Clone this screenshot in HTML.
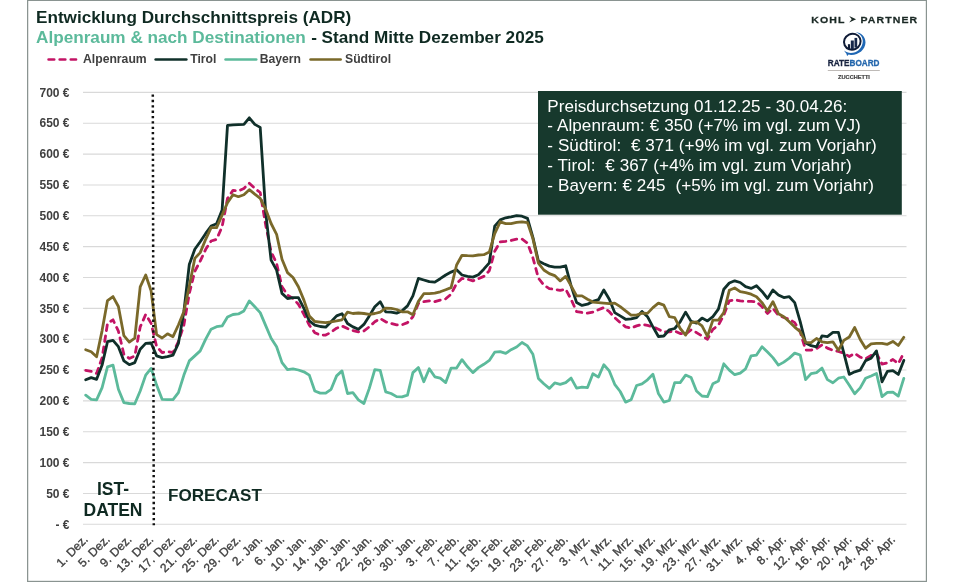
<!DOCTYPE html>
<html><head><meta charset="utf-8"><title>ADR</title>
<style>
html,body{margin:0;padding:0;background:#fff;}
body{width:964px;height:582px;overflow:hidden;position:relative;font-family:"Liberation Sans",sans-serif;}
svg{position:absolute;left:0;top:0;will-change:transform;transform:translateZ(0);}
text{font-family:"Liberation Sans",sans-serif;}
</style></head><body>
<svg width="964" height="582" viewBox="0 0 964 582">
<rect x="0" y="0" width="964" height="582" fill="#ffffff"/>
<g fill="#8a9491"><rect x="27" y="0" width="900" height="1"/><rect x="27" y="580.8" width="900" height="1.2"/><rect x="27" y="0" width="1.25" height="582"/><rect x="925.8" y="0" width="1.2" height="582"/></g>

<g stroke="#d9d9d9" stroke-width="1.1">
<line x1="83" y1="524.30" x2="906.5" y2="524.30"/>
<line x1="83" y1="493.45" x2="906.5" y2="493.45"/>
<line x1="83" y1="462.60" x2="906.5" y2="462.60"/>
<line x1="83" y1="431.75" x2="906.5" y2="431.75"/>
<line x1="83" y1="400.90" x2="906.5" y2="400.90"/>
<line x1="83" y1="370.05" x2="906.5" y2="370.05"/>
<line x1="83" y1="339.20" x2="906.5" y2="339.20"/>
<line x1="83" y1="308.35" x2="906.5" y2="308.35"/>
<line x1="83" y1="277.50" x2="906.5" y2="277.50"/>
<line x1="83" y1="246.65" x2="906.5" y2="246.65"/>
<line x1="83" y1="215.80" x2="906.5" y2="215.80"/>
<line x1="83" y1="184.95" x2="906.5" y2="184.95"/>
<line x1="83" y1="154.10" x2="906.5" y2="154.10"/>
<line x1="83" y1="123.25" x2="906.5" y2="123.25"/>
<line x1="83" y1="92.40" x2="906.5" y2="92.40"/>
</g>
<g font-size="12" font-weight="bold" fill="#404040" text-anchor="end">
<text x="69.5" y="529.1">- €</text>
<text x="69.5" y="497.6">50 €</text>
<text x="69.5" y="466.7">100 €</text>
<text x="69.5" y="435.9">150 €</text>
<text x="69.5" y="405.0">200 €</text>
<text x="69.5" y="374.2">250 €</text>
<text x="69.5" y="343.3">300 €</text>
<text x="69.5" y="312.5">350 €</text>
<text x="69.5" y="281.6">400 €</text>
<text x="69.5" y="250.8">450 €</text>
<text x="69.5" y="219.9">500 €</text>
<text x="69.5" y="189.1">550 €</text>
<text x="69.5" y="158.2">600 €</text>
<text x="69.5" y="127.4">650 €</text>
<text x="69.5" y="96.5">700 €</text>
</g>
<g font-size="12" fill="#404040" stroke="#404040" stroke-width="0.35" text-anchor="end">
<text transform="translate(88.7,540.2) rotate(-45)"><tspan letter-spacing="0.30">1. </tspan>Dez.</text>
<text transform="translate(110.5,540.2) rotate(-45)"><tspan letter-spacing="0.30">5. </tspan>Dez.</text>
<text transform="translate(132.3,540.2) rotate(-45)"><tspan letter-spacing="0.30">9. </tspan>Dez.</text>
<text transform="translate(154.1,540.2) rotate(-45)"><tspan letter-spacing="0.45">13. </tspan>Dez.</text>
<text transform="translate(176.0,540.2) rotate(-45)"><tspan letter-spacing="0.45">17. </tspan>Dez.</text>
<text transform="translate(197.8,540.2) rotate(-45)"><tspan letter-spacing="0.45">21. </tspan>Dez.</text>
<text transform="translate(219.6,540.2) rotate(-45)"><tspan letter-spacing="0.45">25. </tspan>Dez.</text>
<text transform="translate(241.4,540.2) rotate(-45)"><tspan letter-spacing="0.45">29. </tspan>Dez.</text>
<text transform="translate(263.2,540.2) rotate(-45)"><tspan letter-spacing="0.30">2. </tspan>Jan.</text>
<text transform="translate(285.0,540.2) rotate(-45)"><tspan letter-spacing="0.30">6. </tspan>Jan.</text>
<text transform="translate(306.9,540.2) rotate(-45)"><tspan letter-spacing="0.45">10. </tspan>Jan.</text>
<text transform="translate(328.7,540.2) rotate(-45)"><tspan letter-spacing="0.45">14. </tspan>Jan.</text>
<text transform="translate(350.5,540.2) rotate(-45)"><tspan letter-spacing="0.45">18. </tspan>Jan.</text>
<text transform="translate(372.3,540.2) rotate(-45)"><tspan letter-spacing="0.45">22. </tspan>Jan.</text>
<text transform="translate(394.1,540.2) rotate(-45)"><tspan letter-spacing="0.45">26. </tspan>Jan.</text>
<text transform="translate(415.9,540.2) rotate(-45)"><tspan letter-spacing="0.45">30. </tspan>Jan.</text>
<text transform="translate(437.8,540.2) rotate(-45)"><tspan letter-spacing="0.30">3. </tspan>Feb.</text>
<text transform="translate(459.6,540.2) rotate(-45)"><tspan letter-spacing="0.30">7. </tspan>Feb.</text>
<text transform="translate(481.4,540.2) rotate(-45)"><tspan letter-spacing="0.45">11. </tspan>Feb.</text>
<text transform="translate(503.2,540.2) rotate(-45)"><tspan letter-spacing="0.45">15. </tspan>Feb.</text>
<text transform="translate(525.0,540.2) rotate(-45)"><tspan letter-spacing="0.45">19. </tspan>Feb.</text>
<text transform="translate(546.8,540.2) rotate(-45)"><tspan letter-spacing="0.45">23. </tspan>Feb.</text>
<text transform="translate(568.7,540.2) rotate(-45)"><tspan letter-spacing="0.45">27. </tspan>Feb.</text>
<text transform="translate(590.5,540.2) rotate(-45)"><tspan letter-spacing="0.30">3. </tspan>Mrz.</text>
<text transform="translate(612.3,540.2) rotate(-45)"><tspan letter-spacing="0.30">7. </tspan>Mrz.</text>
<text transform="translate(634.1,540.2) rotate(-45)"><tspan letter-spacing="0.45">11. </tspan>Mrz.</text>
<text transform="translate(655.9,540.2) rotate(-45)"><tspan letter-spacing="0.45">15. </tspan>Mrz.</text>
<text transform="translate(677.7,540.2) rotate(-45)"><tspan letter-spacing="0.45">19. </tspan>Mrz.</text>
<text transform="translate(699.5,540.2) rotate(-45)"><tspan letter-spacing="0.45">23. </tspan>Mrz.</text>
<text transform="translate(721.4,540.2) rotate(-45)"><tspan letter-spacing="0.45">27. </tspan>Mrz.</text>
<text transform="translate(743.2,540.2) rotate(-45)"><tspan letter-spacing="0.45">31. </tspan>Mrz.</text>
<text transform="translate(765.0,540.2) rotate(-45)"><tspan letter-spacing="0.30">4. </tspan>Apr.</text>
<text transform="translate(786.8,540.2) rotate(-45)"><tspan letter-spacing="0.30">8. </tspan>Apr.</text>
<text transform="translate(808.6,540.2) rotate(-45)"><tspan letter-spacing="0.45">12. </tspan>Apr.</text>
<text transform="translate(830.4,540.2) rotate(-45)"><tspan letter-spacing="0.45">16. </tspan>Apr.</text>
<text transform="translate(852.3,540.2) rotate(-45)"><tspan letter-spacing="0.45">20. </tspan>Apr.</text>
<text transform="translate(874.1,540.2) rotate(-45)"><tspan letter-spacing="0.45">24. </tspan>Apr.</text>
<text transform="translate(895.9,540.2) rotate(-45)"><tspan letter-spacing="0.45">28. </tspan>Apr.</text>
</g>
<text x="36" y="23" font-size="17.15" font-weight="bold" fill="#0f2a22">Entwicklung Durchschnittspreis (ADR)</text>
<text x="36" y="42.6" font-size="17.17" font-weight="bold" fill="#0f2a22"><tspan fill="#5cba9b">Alpenraum &amp; nach Destinationen</tspan><tspan dx="0.6"> - Stand Mitte Dezember 2025</tspan></text>
<g font-size="12.2" font-weight="bold" fill="#404040">
<line x1="48.6" y1="59.5" x2="76" y2="59.5" stroke="#c31465" stroke-width="2.7" stroke-dasharray="5.6 5.5" stroke-linecap="round"/>
<text x="83" y="63.4">Alpenraum</text>
<line x1="155.7" y1="59.5" x2="186.3" y2="59.5" stroke="#10302a" stroke-width="2.7" stroke-linecap="round"/>
<text x="190.2" y="63.4">Tirol</text>
<line x1="225.6" y1="59.5" x2="256.2" y2="59.5" stroke="#5cba9b" stroke-width="2.7" stroke-linecap="round"/>
<text x="259.7" y="63.4">Bayern</text>
<line x1="310.6" y1="59.5" x2="340.6" y2="59.5" stroke="#7a692a" stroke-width="2.7" stroke-linecap="round"/>
<text x="345" y="63.4">Südtirol</text>
</g>
<g fill="none" stroke-linejoin="round" stroke-linecap="round" stroke-width="2.8">
<path d="M85.7,370.4 L91.2,371.4 L96.6,373.4 L102.1,357.7 L107.5,323.5 L113.0,319.8 L118.4,331.2 L123.9,354.3 L129.3,358.4 L134.8,355.9 L140.2,326.9 L145.7,314.5 L151.1,323.2 L156.6,346.6 L162.1,352.5 L167.5,351.7 L173.0,352.5 L178.4,341.7 L183.9,325.0 L189.3,293.5 L194.8,271.3 L200.2,261.1 L205.7,249.3 L211.1,241.0 L216.6,239.3 L222.1,226.8 L227.5,198.4 L233.0,190.4 L238.4,190.9 L243.9,188.4 L249.3,183.3 L254.8,188.4 L260.2,192.5 L265.7,225.1 L271.1,251.7 L276.6,263.4 L282.0,286.8 L287.5,295.1 L293.0,298.4 L298.4,304.3 L303.9,314.3 L309.3,325.1 L314.8,332.7 L320.2,335.1 L325.7,335.1 L331.1,332.2 L336.6,328.2 L342.0,326.0 L347.5,328.5 L352.9,330.6 L358.4,331.8 L363.9,331.0 L369.3,326.8 L374.8,321.8 L380.2,318.5 L385.7,321.8 L391.1,323.5 L396.6,324.9 L402.0,324.8 L407.5,322.6 L412.9,316.8 L418.4,303.4 L423.8,301.7 L429.3,300.9 L434.8,301.7 L440.2,300.1 L445.7,298.8 L451.1,294.2 L456.6,283.4 L462.0,278.4 L467.5,279.2 L472.9,280.9 L478.4,278.7 L483.8,276.4 L489.3,270.7 L494.7,251.3 L500.2,241.8 L505.7,241.3 L511.1,240.5 L516.6,239.2 L522.0,239.1 L527.5,243.1 L532.9,257.8 L538.4,278.1 L543.8,285.1 L549.3,288.6 L554.7,289.4 L560.2,290.4 L565.7,289.2 L571.1,299.4 L576.6,311.6 L582.0,312.5 L587.5,313.1 L592.9,312.1 L598.4,309.8 L603.8,307.6 L609.3,311.7 L614.7,317.6 L620.2,322.6 L625.6,326.8 L631.1,328.1 L636.6,325.9 L642.0,324.3 L647.5,325.4 L652.9,326.8 L658.4,329.3 L663.8,332.1 L669.3,331.8 L674.7,330.9 L680.2,333.5 L685.6,334.3 L691.1,329.8 L696.5,332.6 L702.0,336.0 L707.5,339.2 L712.9,329.3 L718.4,325.1 L723.8,315.1 L729.3,300.9 L734.7,299.7 L740.2,300.9 L745.6,301.4 L751.1,301.4 L756.5,301.7 L762.0,306.7 L767.5,313.4 L772.9,308.4 L778.4,315.1 L783.8,317.5 L789.3,319.2 L794.7,322.6 L800.2,331.7 L805.6,350.1 L811.1,350.1 L816.5,348.6 L822.0,344.9 L827.4,348.1 L832.9,350.3 L838.4,351.5 L843.8,353.2 L849.3,356.5 L854.7,353.4 L860.2,357.2 L865.6,358.8 L871.1,355.4 L876.5,353.3 L882.0,364.1 L887.4,362.8 L892.9,359.5 L898.3,363.6 L903.8,352.9" stroke="#c31465" stroke-dasharray="5.6 5.5" />
<path d="M85.7,379.8 L91.2,377.6 L96.6,379.3 L102.1,365.1 L107.5,341.7 L113.0,340.4 L118.4,346.7 L123.9,360.9 L129.3,364.7 L134.8,362.6 L140.2,349.2 L145.7,343.4 L151.1,343.0 L156.6,355.9 L162.1,357.6 L167.5,356.7 L173.0,355.1 L178.4,343.4 L183.9,311.4 L189.3,264.5 L194.8,249.3 L200.2,241.8 L205.7,233.4 L211.1,226.0 L216.6,223.8 L222.1,210.1 L227.5,125.4 L233.0,124.9 L238.4,124.7 L243.9,124.4 L249.3,117.8 L254.8,124.4 L260.2,127.4 L265.7,212.7 L271.1,260.1 L276.6,270.1 L282.0,293.4 L287.5,298.5 L293.0,297.6 L298.4,297.6 L303.9,308.4 L309.3,320.9 L314.8,325.1 L320.2,326.5 L325.7,327.2 L331.1,321.8 L336.6,315.9 L342.0,313.8 L347.5,323.5 L352.9,326.9 L358.4,329.3 L363.9,324.4 L369.3,315.9 L374.8,306.7 L380.2,301.7 L385.7,311.8 L391.1,312.1 L396.6,313.1 L402.0,310.9 L407.5,305.9 L412.9,295.9 L418.4,278.4 L423.8,280.0 L429.3,281.7 L434.8,282.1 L440.2,278.7 L445.7,275.0 L451.1,272.1 L456.6,269.7 L462.0,275.0 L467.5,276.4 L472.9,277.1 L478.4,274.7 L483.8,269.2 L489.3,262.8 L494.7,226.1 L500.2,219.9 L505.7,217.8 L511.1,216.8 L516.6,215.6 L522.0,216.2 L527.5,218.4 L532.9,237.4 L538.4,261.0 L543.8,263.7 L549.3,266.1 L554.7,267.1 L560.2,267.2 L565.7,265.8 L571.1,285.9 L576.6,302.6 L582.0,305.4 L587.5,304.2 L592.9,301.4 L598.4,299.7 L603.8,290.0 L609.3,299.2 L614.7,312.6 L620.2,315.9 L625.6,319.3 L631.1,318.8 L636.6,317.6 L642.0,311.4 L647.5,316.7 L652.9,326.8 L658.4,336.5 L663.8,336.0 L669.3,329.8 L674.7,328.5 L680.2,321.8 L685.6,312.1 L691.1,321.4 L696.5,323.1 L702.0,318.1 L707.5,320.9 L712.9,316.7 L718.4,309.2 L723.8,289.2 L729.3,283.0 L734.7,280.8 L740.2,282.5 L745.6,286.7 L751.1,288.4 L756.5,285.8 L762.0,291.4 L767.5,298.4 L772.9,290.0 L778.4,295.0 L783.8,297.6 L789.3,296.7 L794.7,302.6 L800.2,321.7 L805.6,343.1 L811.1,345.7 L816.5,346.9 L822.0,335.8 L827.4,336.6 L832.9,332.4 L838.4,332.4 L843.8,352.8 L849.3,374.4 L854.7,371.8 L860.2,370.2 L865.6,360.6 L871.1,358.2 L876.5,350.9 L882.0,381.8 L887.4,371.3 L892.9,370.7 L898.3,374.4 L903.8,360.4" stroke="#10302a"/>
<path d="M85.7,395.2 L91.2,399.3 L96.6,399.8 L102.1,387.6 L107.5,366.8 L113.0,365.1 L118.4,389.3 L123.9,402.6 L129.3,403.5 L134.8,403.8 L140.2,391.0 L145.7,375.1 L151.1,368.4 L156.6,385.1 L162.1,399.3 L167.5,399.7 L173.0,399.7 L178.4,392.6 L183.9,375.1 L189.3,360.9 L194.8,355.9 L200.2,350.9 L205.7,339.2 L211.1,329.2 L216.6,326.7 L222.1,325.9 L227.5,317.0 L233.0,314.5 L238.4,313.9 L243.9,310.9 L249.3,300.9 L254.8,306.7 L260.2,312.6 L265.7,325.6 L271.1,338.3 L276.6,346.7 L282.0,362.6 L287.5,369.7 L293.0,368.8 L298.4,370.0 L303.9,371.8 L309.3,375.1 L314.8,391.0 L320.2,393.1 L325.7,393.1 L331.1,389.3 L336.6,375.9 L342.0,370.9 L347.5,393.5 L352.9,392.6 L358.4,399.8 L363.9,403.5 L369.3,388.4 L374.8,369.7 L380.2,370.4 L385.7,391.8 L391.1,393.5 L396.6,396.6 L402.0,396.8 L407.5,395.2 L412.9,372.6 L418.4,367.6 L423.8,381.8 L429.3,368.8 L434.8,376.8 L440.2,378.1 L445.7,382.6 L451.1,368.1 L456.6,368.1 L462.0,359.6 L467.5,366.8 L472.9,372.6 L478.4,367.6 L483.8,364.3 L489.3,360.4 L494.7,352.2 L500.2,351.7 L505.7,353.4 L511.1,349.7 L516.6,347.0 L522.0,342.5 L527.5,345.9 L532.9,354.3 L538.4,378.4 L543.8,383.8 L549.3,388.4 L554.7,382.9 L560.2,384.3 L565.7,382.6 L571.1,378.1 L576.6,388.1 L582.0,387.1 L587.5,387.6 L592.9,373.8 L598.4,377.1 L603.8,364.7 L609.3,370.9 L614.7,384.3 L620.2,391.5 L625.6,402.1 L631.1,399.8 L636.6,385.5 L642.0,383.8 L647.5,379.8 L652.9,374.2 L658.4,393.5 L663.8,402.1 L669.3,400.5 L674.7,382.6 L680.2,382.6 L685.6,375.1 L691.1,377.6 L696.5,391.0 L702.0,396.0 L707.5,396.6 L712.9,383.8 L718.4,381.0 L723.8,363.8 L729.3,370.1 L734.7,374.7 L740.2,373.1 L745.6,368.8 L751.1,355.9 L756.5,355.1 L762.0,346.7 L767.5,352.0 L772.9,357.6 L778.4,365.1 L783.8,362.1 L789.3,358.1 L794.7,353.1 L800.2,355.0 L805.6,379.6 L811.1,373.6 L816.5,372.6 L822.0,368.1 L827.4,379.6 L832.9,382.8 L838.4,378.2 L843.8,377.0 L849.3,385.2 L854.7,393.8 L860.2,387.9 L865.6,378.3 L871.1,376.0 L876.5,373.5 L882.0,396.6 L887.4,392.4 L892.9,392.1 L898.3,396.1 L903.8,378.4" stroke="#5cba9b"/>
<path d="M85.7,349.7 L91.2,351.8 L96.6,356.8 L102.1,330.6 L107.5,300.6 L113.0,296.6 L118.4,306.5 L123.9,335.7 L129.3,342.1 L134.8,338.2 L140.2,286.8 L145.7,275.0 L151.1,290.8 L156.6,334.6 L162.1,338.0 L167.5,333.8 L173.0,336.7 L178.4,325.0 L183.9,311.4 L189.3,286.1 L194.8,258.4 L200.2,252.6 L205.7,239.3 L211.1,227.6 L216.6,227.6 L222.1,215.1 L227.5,202.6 L233.0,194.7 L238.4,196.7 L243.9,194.7 L249.3,189.7 L254.8,194.2 L260.2,198.4 L265.7,209.3 L271.1,223.5 L276.6,234.3 L282.0,259.3 L287.5,272.6 L293.0,277.5 L298.4,286.8 L303.9,300.1 L309.3,315.9 L314.8,321.5 L320.2,322.1 L325.7,322.6 L331.1,321.8 L336.6,320.9 L342.0,319.8 L347.5,312.1 L352.9,313.5 L358.4,313.0 L363.9,313.5 L369.3,314.3 L374.8,313.5 L380.2,312.1 L385.7,308.1 L391.1,308.4 L396.6,309.5 L402.0,311.8 L407.5,311.8 L412.9,314.8 L418.4,301.4 L423.8,293.7 L429.3,293.7 L434.8,293.1 L440.2,291.8 L445.7,289.7 L451.1,287.6 L456.6,265.0 L462.0,255.3 L467.5,255.7 L472.9,255.8 L478.4,255.0 L483.8,254.7 L489.3,252.1 L494.7,233.6 L500.2,221.8 L505.7,223.6 L511.1,223.6 L516.6,222.4 L522.0,221.8 L527.5,222.6 L532.9,238.6 L538.4,263.2 L543.8,270.0 L549.3,273.6 L554.7,275.6 L560.2,280.9 L565.7,276.4 L571.1,285.9 L576.6,295.9 L582.0,295.9 L587.5,299.2 L592.9,302.1 L598.4,302.6 L603.8,303.1 L609.3,303.7 L614.7,303.1 L620.2,306.7 L625.6,310.9 L631.1,315.1 L636.6,315.1 L642.0,313.1 L647.5,313.4 L652.9,307.6 L658.4,303.1 L663.8,305.1 L669.3,316.7 L674.7,317.6 L680.2,328.5 L685.6,335.1 L691.1,322.6 L696.5,321.8 L702.0,325.9 L707.5,336.4 L712.9,320.1 L718.4,320.1 L723.8,312.5 L729.3,290.3 L734.7,288.0 L740.2,291.7 L745.6,292.6 L751.1,294.2 L756.5,296.7 L762.0,302.6 L767.5,310.9 L772.9,301.7 L778.4,313.7 L783.8,316.7 L789.3,321.7 L794.7,327.1 L800.2,331.7 L805.6,342.4 L811.1,342.7 L816.5,338.5 L822.0,341.8 L827.4,342.7 L832.9,341.8 L838.4,350.3 L843.8,340.4 L849.3,337.0 L854.7,327.5 L860.2,339.5 L865.6,348.2 L871.1,343.8 L876.5,343.3 L882.0,343.3 L887.4,344.3 L892.9,341.4 L898.3,345.5 L903.8,337.3" stroke="#7a692a"/>
</g>
<line x1="152.8" y1="94.5" x2="153.8" y2="525.3" stroke="#111" stroke-width="2.5" stroke-dasharray="2.3 3.06"/>
<g font-weight="bold" fill="#0f2a22">
<text x="113" y="495.0" font-size="17.5" text-anchor="middle">IST-</text>
<text x="113" y="515.5" font-size="17.5" text-anchor="middle">DATEN</text>
<text x="168.0" y="501" font-size="17.07">FORECAST</text>
</g>
<rect x="538" y="91" width="363.8" height="123.7" fill="#17392d"/>
<g font-size="17.07" fill="#ffffff">
<text x="547.3" y="111.6" xml:space="preserve" textLength="300.0" lengthAdjust="spacing">Preisdurchsetzung 01.12.25 - 30.04.26:</text>
<text x="547.3" y="131.3" xml:space="preserve" textLength="313.4" lengthAdjust="spacing">- Alpenraum: € 350 (+7% im vgl. zum VJ)</text>
<text x="547.3" y="151.1" xml:space="preserve" textLength="329.3" lengthAdjust="spacing">- Südtirol:  € 371 (+9% im vgl. zum Vorjahr)</text>
<text x="547.3" y="170.8" xml:space="preserve" textLength="304.3" lengthAdjust="spacing">- Tirol:  € 367 (+4% im vgl. zum Vorjahr)</text>
<text x="547.3" y="190.6" xml:space="preserve" textLength="326.6" lengthAdjust="spacing">- Bayern: € 245  (+5% im vgl. zum Vorjahr)</text>
</g>
<g id="logos">
<g font-size="9" font-weight="bold" fill="#1b2925" stroke="#1b2925" stroke-width="0.25">
<text transform="translate(811.2,22.65) scale(1.17,1)" letter-spacing="0.95">KOHL</text>
<text transform="translate(860.5,22.65) scale(1.17,1)" letter-spacing="0.95">PARTNER</text>
</g>
<path d="M849.2,16.1 L856.1,19.35 L849.2,22.6 L851.7,19.35 Z" fill="#1b2925"/>
<!-- rateboard icon -->
<path d="M844.1,50.6 C848,54.0 855,53.5 858.8,50.0 C862.6,46.5 864.0,41 861.6,36.8 C860.4,34.4 858.2,33.1 855.6,32.2 C861,32.2 865.6,37 865.5,42.5 C865.3,49.8 858.5,55.1 851,54.9 L848.6,54.6 L847.1,56.0 L846.3,53.5 C845.3,52.8 844.6,51.7 844.1,50.6 Z" fill="#1f67b4"/>
<ellipse cx="852.3" cy="41.7" rx="8.4" ry="7.9" fill="none" stroke="#0f1b36" stroke-width="2" transform="rotate(-25 852.3 41.7)"/>
<rect x="847.9" y="44.2" width="2.2" height="4.8" fill="#0f1b36"/>
<rect x="850.8" y="40.5" width="3.0" height="8.7" fill="#17284a"/>
<rect x="854.5" y="37.9" width="2.7" height="9.7" fill="#17284a"/>
<text transform="translate(827.8,66.35) scale(0.85,1)" font-size="9.65" font-weight="bold" fill="#17223f" stroke="#17223f" stroke-width="0.3">RATE<tspan fill="#2467ad" stroke="#2467ad">BOARD</tspan></text>
<rect x="827.8" y="70.2" width="52" height="0.7" fill="#a39c98"/>
<text transform="translate(838.1,78.7) scale(0.92,1)" font-size="6.1" font-weight="bold" fill="#3c3c3c" stroke="#3c3c3c" stroke-width="0.2">ZUCCHETTI</text>
</g>

</svg></body></html>
